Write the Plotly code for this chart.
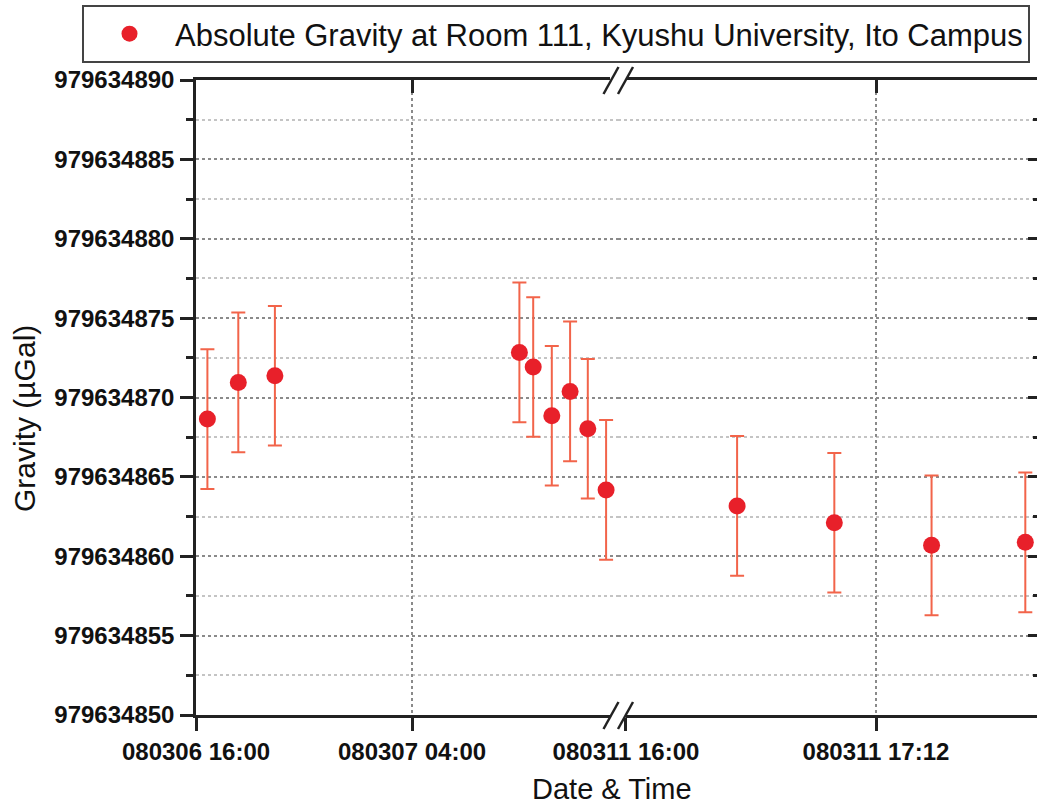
import plotly.graph_objects as go

# ---- data -----------------------------------------------------------------
# 6-7 March 2008 measurement epochs (left side of the axis break)
times_early = ["2008-03-06 16:38", "2008-03-06 18:21", "2008-03-06 20:23",
               "2008-03-07 09:58", "2008-03-07 10:44", "2008-03-07 11:46",
               "2008-03-07 12:47", "2008-03-07 13:46", "2008-03-07 14:47"]
gravity_early = [979634868.64, 979634870.95, 979634871.37,
                 979634872.84, 979634871.92, 979634868.85,
                 979634870.38, 979634868.03, 979634864.18]
error_early = [4.4, 4.4, 4.4, 4.4, 4.4, 4.4, 4.4, 4.4, 4.4]

# 11 March 2008 measurement epochs (right side of the axis break)
times_late = ["2008-03-11 16:32", "2008-03-11 17:00",
              "2008-03-11 17:28", "2008-03-11 17:55"]
gravity_late = [979634863.17, 979634862.11, 979634860.69, 979634860.88]
error_late = [4.4, 4.4, 4.4, 4.4]

series_name = "Absolute Gravity at Room 111, Kyushu University, Ito Campus"

y_ticks = [979634850, 979634855, 979634860, 979634865, 979634870,
           979634875, 979634880, 979634885, 979634890]
y_ticktext = [str(v) for v in y_ticks]

x_left_ticks = ["2008-03-06 16:00", "2008-03-07 04:00"]
x_left_ticktext = ["080306 16:00", "080307 04:00"]
x_right_ticks = ["2008-03-11 16:00", "2008-03-11 17:12"]
x_right_ticktext = ["080311 16:00", "080311 17:12"]

x_left_range = ["2008-03-06 16:00", "2008-03-07 15:26:40"]
x_right_range = ["2008-03-11 15:57:42", "2008-03-11 17:58:22"]
y_range = [979634850, 979634890]

# ---- styling --------------------------------------------------------------
W, H = 1037, 810
ML, MR, MT, MB = 196, 0, 80, 95
PW, PH = W - ML - MR, H - MT - MB
SPLIT = 422 / PW  # domain fraction where the axis break sits

MARKER_RED = "#e8202a"
ERR_RED = "#f2644a"
AXIS = "#222222"
FONT = "Liberation Sans, Arial, sans-serif"

tick_font = dict(family=FONT, size=24, color="#111111", weight="bold")


def px_x(px):
    return (px - ML) / PW


def px_y(py):
    return (H - MB - py) / PH


fig = go.Figure()

marker = dict(color=MARKER_RED, size=17, line=dict(width=0))

fig.add_trace(go.Scatter(
    x=times_early, y=gravity_early, mode="markers", name=series_name,
    marker=marker,
    error_y=dict(type="data", array=error_early, color=ERR_RED,
                 thickness=2, width=7),
    xaxis="x", yaxis="y", showlegend=True,
))
fig.add_trace(go.Scatter(
    x=times_late, y=gravity_late, mode="markers", name=series_name,
    marker=marker,
    error_y=dict(type="data", array=error_late, color=ERR_RED,
                 thickness=2, width=7),
    xaxis="x2", yaxis="y", showlegend=False,
))
# empty traces so the frame-only axes get their own subplots
for xa, ya in (("x3", "y"), ("x4", "y"), ("x2", "y2")):
    fig.add_trace(go.Scatter(x=[], y=[], xaxis=xa, yaxis=ya,
                             showlegend=False, hoverinfo="skip"))

bottom_axis = dict(
    type="date", showline=True, linecolor=AXIS, linewidth=2.5,
    ticks="outside", ticklen=13, tickwidth=2.5, tickcolor=AXIS,
    tickmode="array", showgrid=False, zeroline=False, tickfont=tick_font,
)
top_axis = dict(
    type="date", side="top", anchor="y", showline=True, linecolor=AXIS,
    linewidth=2.5, ticks="inside", ticklen=13, tickwidth=2.5,
    tickcolor=AXIS, tickmode="array", showticklabels=False,
    showgrid=True, gridcolor="#8a8a8a", gridwidth=1.5, griddash="dot",
    zeroline=False,
)

fig.update_layout(
    width=W, height=H, autosize=False,
    margin=dict(l=ML, r=MR, t=MT, b=MB, pad=0),
    paper_bgcolor="white", plot_bgcolor="white",
    font=dict(family=FONT, color="#111111"),
    xaxis=dict(bottom_axis, domain=[0, SPLIT], range=x_left_range,
               tickvals=x_left_ticks, ticktext=x_left_ticktext, anchor="y"),
    xaxis2=dict(bottom_axis, domain=[SPLIT, 1], range=x_right_range,
                tickvals=x_right_ticks, ticktext=x_right_ticktext, anchor="y"),
    xaxis3=dict(top_axis, overlaying="x", range=x_left_range,
                tickvals=[x_left_ticks[1]]),
    xaxis4=dict(top_axis, overlaying="x2", range=x_right_range,
                tickvals=[x_right_ticks[1]]),
    yaxis=dict(
        range=y_range, tickmode="array", tickvals=y_ticks,
        ticktext=y_ticktext, tickfont=tick_font,
        showline=True, linecolor=AXIS, linewidth=2.5, anchor="x",
        ticks="outside", ticklen=13, tickwidth=2.5, tickcolor=AXIS,
        ticklabelstandoff=1,
        showgrid=True, gridcolor="#8a8a8a", gridwidth=1.5, griddash="dot",
        zeroline=False,
        minor=dict(tickmode="linear", tick0=979634852.5, dtick=5,
                   ticks="outside", ticklen=7, tickwidth=2.5,
                   tickcolor=AXIS, showgrid=True, gridcolor="#c4c4c4",
                   gridwidth=1.5, griddash="dot"),
    ),
    yaxis2=dict(
        range=y_range, overlaying="y", side="right", anchor="x2",
        tickmode="array", tickvals=y_ticks, showticklabels=False,
        showline=False, ticks="inside", ticklen=9, tickwidth=2.5,
        tickcolor=AXIS, showgrid=False, zeroline=False,
        minor=dict(tickmode="linear", tick0=979634852.5, dtick=5,
                   ticks="inside", ticklen=4, tickwidth=2.5,
                   tickcolor=AXIS, showgrid=False),
    ),
    legend=dict(
        x=px_x(82), y=px_y(5), xanchor="left", yanchor="top",
        bordercolor="#444444", borderwidth=2, bgcolor="white",
        font=dict(family=FONT, size=31, color="#111111"),
        itemwidth=81, tracegroupgap=0,
    ),
    showlegend=True,
)

# axis titles
fig.add_annotation(text="Gravity (\u00b5Gal)", xref="paper", yref="paper",
                   x=px_x(24), y=px_y(419), textangle=-90, showarrow=False,
                   font=dict(family=FONT, size=30, color="#111111"),
                   xanchor="center", yanchor="middle")
fig.add_annotation(text="Date &amp; Time", xref="paper", yref="paper",
                   x=px_x(612), y=px_y(789), showarrow=False,
                   font=dict(family=FONT, size=29, color="#111111"),
                   xanchor="center", yanchor="middle")

# axis-break marks (//) on the bottom and top frame lines
for yline in (H - MB, MT):
    fig.add_shape(type="rect", xref="paper", yref="paper",
                  x0=px_x(610), x1=px_x(626), y0=px_y(yline + 3),
                  y1=px_y(yline - 3), fillcolor="white",
                  line=dict(width=0), layer="above")
    for xc in (611, 625.5):
        fig.add_shape(type="line", xref="paper", yref="paper",
                      x0=px_x(xc - 7.5), y0=px_y(yline + 14),
                      x1=px_x(xc + 7.5), y1=px_y(yline - 13),
                      line=dict(color=AXIS, width=2.5), layer="above")

fig.write_html("out.html")
